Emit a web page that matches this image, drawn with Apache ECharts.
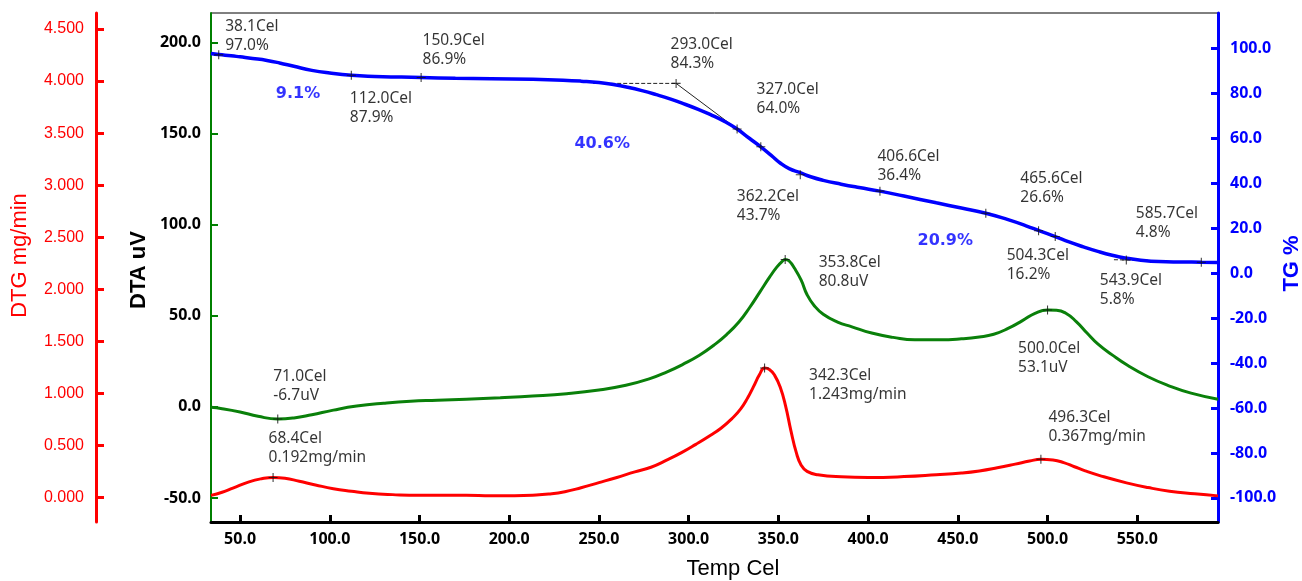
<!DOCTYPE html>
<html><head><meta charset="utf-8">
<script src="https://cdn.jsdelivr.net/npm/echarts@6/dist/echarts.min.js"></script>
<style>html,body{margin:0;padding:0;background:#fff}#c{width:1302px;height:581px}</style>
</head><body><div id="c"></div>
<script>
// ---- tick values ----
const tempTicks = [50, 100, 150, 200, 250, 300, 350, 400, 450, 500, 550];
const dtaTicks = [-50, 0, 50, 100, 150, 200];
const dtgTicks = [0, 0.5, 1.0, 1.5, 2.0, 2.5, 3.0, 3.5, 4.0, 4.5];
const tgTicks = [-100, -80, -60, -40, -20, 0, 20, 40, 60, 80, 100];

// ---- curves [temp, value] ----
const tgCurve = [[33.8,97.6],[38.1,97.1],[45,96.6],[50,96.1],[57,95.4],[65,94.5],[72,93.4],[80,91.9],[90,90.1],[100,88.9],[112,87.9],[125,87.4],[140,87.1],[150.9,86.9],[170,86.6],[190,86.4],[213,86.1],[230,85.7],[240,85.3],[250,84.7],[258,83.8],[266,82.6],[274,81.1],[282,79.3],[290,77.3],[297,75.3],[305,72.9],[313,70.1],[320,67.4],[327,64.0],[334,59.8],[340.2,56.1],[346,52.3],[351,48.9],[356,46.4],[362.2,44.6],[368,42.8],[375,41.2],[385,39.5],[395,38.0],[406.6,36.4],[420,34.2],[438,31.2],[452,28.9],[465.6,26.6],[478,23.7],[488,21.0],[496,18.6],[504.3,16.2],[512,13.8],[520,11.6],[528,9.6],[536,7.9],[543.9,6.6],[552,5.7],[562,5.1],[575,4.9],[585.7,4.8],[595,4.7]];
const dtaCurve = [[33.8,-0.3],[40,-1.0],[50,-2.8],[60,-5.2],[71,-6.7],[80,-6.1],[90,-4.3],[102,-1.8],[115,0.4],[130,2.0],[145,3.1],[160,3.6],[176,4.2],[195,5.0],[213,5.9],[232,7.2],[250,9.2],[265,11.8],[278,15.3],[288,19.2],[297,23.4],[306,28.3],[314,33.8],[321,39.5],[328,46.5],[334,54.5],[340,63.5],[345,71.0],[349,76.5],[352,79.7],[353.8,80.8],[356,80.0],[359,76.0],[362.7,69.5],[366,61.5],[370,55.5],[375,50.8],[383,46.5],[391,43.9],[402,40.5],[414,38.1],[426,36.8],[440,36.8],[452,37.3],[462,38.3],[470,39.8],[478,43.0],[486,47.3],[493,51.3],[500,53.1],[505,53.0],[510,51.5],[516,46.8],[522,40.5],[528,34.5],[536,28.5],[545,22.5],[556,16.5],[567,11.8],[580,7.5],[595,4.2]];
const dtgCurve = [[33.8,0.02],[40,0.05],[46,0.09],[55,0.15],[62,0.18],[68.4,0.192],[75,0.185],[83,0.155],[92,0.12],[102,0.084],[112,0.06],[122,0.04],[135,0.027],[150,0.02],[165,0.022],[176,0.022],[190,0.016],[203,0.017],[213,0.022],[222,0.033],[231,0.055],[240,0.093],[250,0.142],[260,0.192],[270,0.245],[279,0.29],[288,0.36],[296,0.43],[304,0.51],[312,0.595],[318,0.665],[324,0.755],[329,0.85],[333,0.96],[336,1.06],[339.5,1.18],[342.3,1.243],[345,1.23],[348,1.17],[351,1.06],[354,0.88],[357,0.64],[360,0.43],[362.7,0.31],[366,0.25],[372,0.218],[385,0.198],[400,0.192],[420,0.2],[438,0.218],[452,0.235],[462,0.255],[472,0.285],[482,0.32],[490,0.35],[496.3,0.367],[503,0.36],[509,0.335],[515,0.295],[521,0.255],[530,0.205],[544,0.14],[556,0.095],[568,0.06],[582,0.035],[595,0.015]];

// ---- analysis points ----
const tgNotes = [[38.1,97.0],[112.0,87.9],[150.9,86.9],[293.0,84.3],[327.0,64.0],[362.2,43.7],[406.6,36.4],[465.6,26.6],[504.3,16.2],[543.9,5.8],[585.7,4.8]];
const tgExtraMarks = [[340.2,56.1],[495,18.8]];
const dtaNotes = [[71.0,-6.7],[353.8,80.8],[500.0,53.1]];
const dtgNotes = [[68.4,0.192],[342.3,1.243],[496.3,0.367]];
const stepTexts = ['9.1%', '40.6%', '20.9%'];
const tangentDashed = [[[246.8,84.3],[293.0,84.3]],[[537,5.9],[556,5.7]]];
const tangentSolid = [[[293.0,84.3],[327.0,64.0]]];

// ---- layout (pixel offsets of labels, label anchors) ----
const tgNoteOffsets = [[7,-37],[-1,14],[2,-46],[-5,-48],[20,-48],[-63,13],[-2,-44],[35,-44],[-48,10],[-26,12],[-65,-58]];
const dtaNoteOffsets = [[-4,-51],[34,-6],[-29,30]];
const dtgNoteOffsets = [[-4,-48],[45,-1],[8,-51]];
const stepAnchors = [[82.3,79.6],[251.8,57.3],[443,14.2]];

const FONT = 'DejaVu Sans';
const NOTE_FONT = 'Noto Sans';
const TICK_FONT = 'Noto Sans';
const TITLE_FONT = 'Liberation Sans, Arial, sans-serif';
const cross = 'path://M-0.12,-1H0.12V-0.12H1V0.12H0.12V1H-0.12V0.12H-1V-0.12H-0.12Z';

function noteSeries(name, pts, offs, yIdx, fmt) {
  return {
    name, type: 'scatter', yAxisIndex: yIdx, symbol: 'rect', symbolSize: 1,
    itemStyle: {color: 'transparent'}, silent: true, z: 20,
    data: pts.map((p, i) => ({
      value: p,
      label: {show: true, position: offs[i], align: 'left', verticalAlign: 'top',
        formatter: fmt(p), fontFamily: NOTE_FONT, fontSize: 15.5, lineHeight: 19, color: '#000'}
    }))
  };
}
function markSeries(pts, yIdx) {
  return {type: 'scatter', yAxisIndex: yIdx, symbol: cross, symbolSize: 9,
    itemStyle: {color: '#111'}, silent: true, z: 15, data: pts};
}
function segSeries(segs, dashed) {
  return segs.map(s => ({type: 'line', yAxisIndex: 2, data: s, showSymbol: false, silent: true, z: 4,
    lineStyle: {color: '#222', width: 1, type: dashed ? [4, 2] : 'solid'}}));
}

const chart = echarts.init(document.getElementById('c'));
const axisCommon = (color, w) => ({
  type: 'value', splitLine: {show: false},
  axisLine: {show: true, onZero: false, lineStyle: {color, width: w}},
});
chart.setOption({
  animation: false,
  backgroundColor: '#fff',
  grid: {left: 211, right: 84, top: 13, bottom: 59, show: true, borderColor: '#000', borderWidth: 1, outerBoundsMode: 'none'},
  xAxis: Object.assign(axisCommon('#000', 3), {
    min: 33.8, max: 595,
    axisTick: {show: true, inside: true, length: 7, lineStyle: {color: '#000', width: 3}, customValues: tempTicks},
    axisLabel: {customValues: tempTicks, formatter: v => v.toFixed(1), color: '#000', fontWeight: 'bold', fontSize: 16, fontFamily: TICK_FONT, margin: 9}
  }),
  yAxis: [
    Object.assign(axisCommon('#008000', 2), {
      position: 'left', min: -63.2, max: 216.1,
      axisTick: {show: true, inside: true, length: 7, lineStyle: {color: '#008000', width: 2}, customValues: dtaTicks},
      axisLabel: {customValues: dtaTicks, formatter: v => v.toFixed(1), color: '#000', fontWeight: 'bold', fontSize: 16, fontFamily: TICK_FONT, margin: 10}
    }),
    Object.assign(axisCommon('#ff0000', 3), {
      position: 'left', offset: 115, min: -0.236, max: 4.654,
      axisTick: {show: true, inside: true, length: 8, lineStyle: {color: '#ff0000', width: 3}, customValues: dtgTicks},
      axisLabel: {customValues: dtgTicks, formatter: v => v.toFixed(3), color: '#ff0000', fontSize: 16, fontFamily: TITLE_FONT, margin: 12}
    }),
    Object.assign(axisCommon('#0000ff', 3), {
      position: 'right', min: -110.7, max: 115.6,
      axisTick: {show: true, inside: true, length: 7, lineStyle: {color: '#0000ff', width: 3}, customValues: tgTicks},
      axisLabel: {customValues: tgTicks, formatter: v => v.toFixed(1), color: '#0000ff', fontWeight: 'bold', fontSize: 16, fontFamily: TICK_FONT, margin: 12, align: 'left'}
    })
  ],
  graphic: [
    {type: 'text', x: 733, y: 569, silent: true, style: {text: 'Temp Cel', font: '22px ' + TITLE_FONT, fill: '#000', align: 'center', verticalAlign: 'middle'}},
    {type: 'text', x: 19.5, y: 255.5, rotation: Math.PI / 2, silent: true, style: {text: 'DTG mg/min', font: '22px ' + TITLE_FONT, fill: '#ff0000', align: 'center', verticalAlign: 'middle'}},
    {type: 'text', x: 138.5, y: 270, rotation: Math.PI / 2, silent: true, style: {text: 'DTA uV', font: 'bold 22px ' + TITLE_FONT, fill: '#000', align: 'center', verticalAlign: 'middle'}},
    {type: 'text', x: 1291.5, y: 263.5, rotation: Math.PI / 2, silent: true, style: {text: 'TG %', font: 'bold 22px ' + TITLE_FONT, fill: '#0000ff', align: 'center', verticalAlign: 'middle'}}
  ],
  series: [
    {name: 'DTG', type: 'line', yAxisIndex: 1, data: dtgCurve, showSymbol: false, smooth: 0.5, lineStyle: {color: '#ff0000', width: 3}, z: 5},
    {name: 'DTA', type: 'line', yAxisIndex: 0, data: dtaCurve, showSymbol: false, smooth: 0.5, lineStyle: {color: '#0a800a', width: 3}, z: 5},
    ...segSeries(tangentDashed, true),
    ...segSeries(tangentSolid, false),
    {name: 'TG', type: 'line', yAxisIndex: 2, data: tgCurve, showSymbol: false, smooth: 0.5, lineStyle: {color: '#0000ff', width: 3.5}, z: 6},
    markSeries(tgNotes.concat(tgExtraMarks), 2),
    markSeries(dtaNotes, 0),
    markSeries(dtgNotes, 1),
    noteSeries('tgNotes', tgNotes, tgNoteOffsets, 2, p => p[0].toFixed(1) + 'Cel\n' + p[1].toFixed(1) + '%'),
    noteSeries('dtaNotes', dtaNotes, dtaNoteOffsets, 0, p => p[0].toFixed(1) + 'Cel\n' + p[1].toFixed(1) + 'uV'),
    noteSeries('dtgNotes', dtgNotes, dtgNoteOffsets, 1, p => p[0].toFixed(1) + 'Cel\n' + p[1].toFixed(3) + 'mg/min'),
    {type: 'scatter', yAxisIndex: 2, symbol: 'rect', symbolSize: 1, itemStyle: {color: 'transparent'}, silent: true, z: 20,
      data: stepAnchors.map((p, i) => ({value: p, label: {show: true, position: 'inside', formatter: stepTexts[i],
        fontFamily: FONT, fontWeight: 'bold', fontSize: 16, color: '#0000ff'}}))}
  ]
});
</script></body></html>
